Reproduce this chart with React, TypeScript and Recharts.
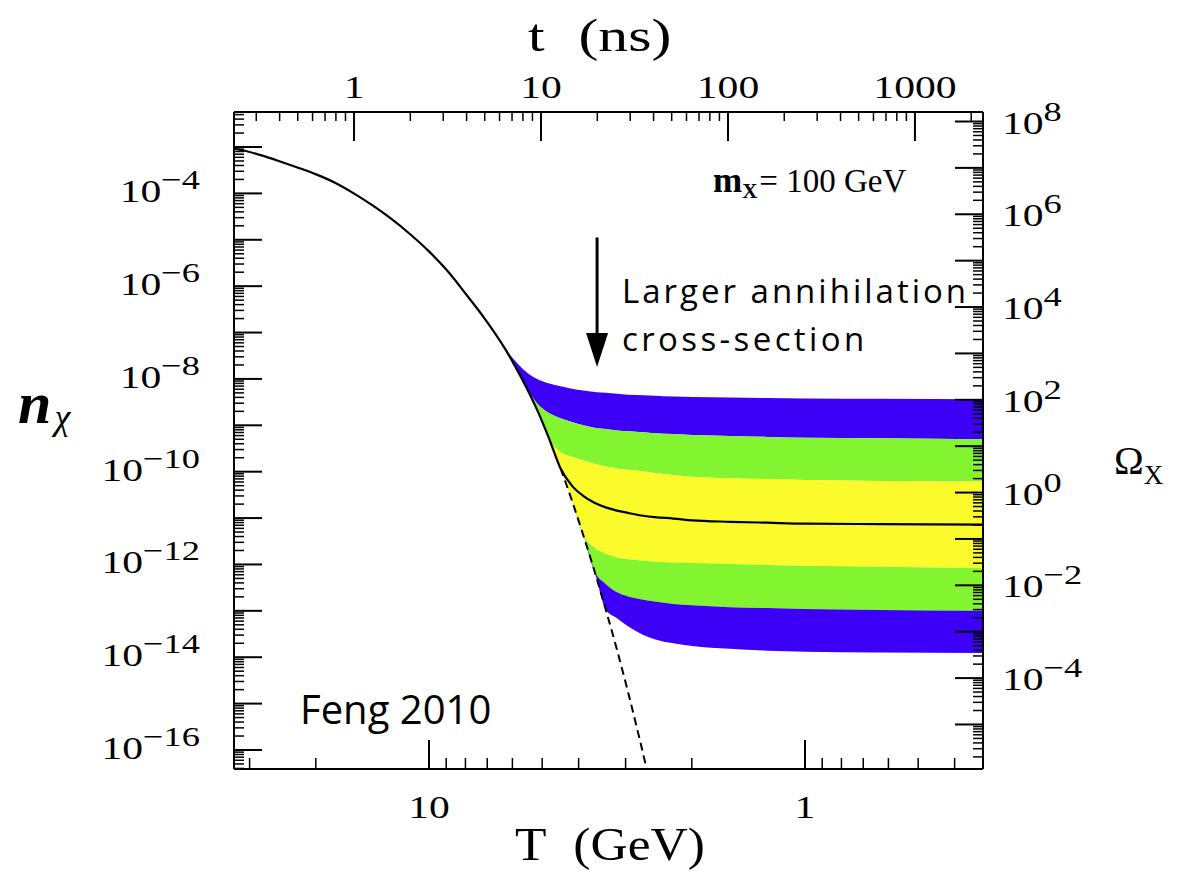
import React from 'react';
import { ComposedChart, Area, Line, XAxis, YAxis, ReferenceLine, ReferenceDot } from 'recharts';

// x = log10 T (GeV), y = log10 n_chi
const eqLogT = [1.52, 1.49, 1.45, 1.4, 1.35, 1.3, 1.25, 1.2, 1.15, 1.1, 1.05, 1.0, 0.95, 0.9, 0.85, 0.8, 0.77, 0.74, 0.71, 0.68, 0.65, 0.62, 0.59, 0.56, 0.53, 0.5, 0.47, 0.44, 0.41];
const eqLogN = [-3.03, -3.08, -3.17, -3.3, -3.44, -3.59, -3.77, -4.0, -4.26, -4.55, -4.88, -5.25, -5.68, -6.19, -6.72, -7.32, -7.74, -8.2, -8.71, -9.3, -9.93, -10.62, -11.36, -12.14, -12.97, -13.84, -14.77, -15.76, -16.79];

// band edges after freeze-out, top to bottom
const bandLogT = [0.8, 0.77, 0.74, 0.71, 0.68, 0.65, 0.62, 0.59, 0.56, 0.53, 0.5, 0.47, 0.43, 0.4, 0.35, 0.3, 0.2, 0.1, 0.0, -0.2, -0.48];
const blueTop = [-7.32, -7.62, -7.86, -8.01, -8.1, -8.16, -8.21, -8.25, -8.28, -8.3, -8.32, -8.34, -8.35, -8.36, -8.38, -8.39, -8.4, -8.41, -8.42, -8.43, -8.44];
const blueGreen = [-7.32, -7.74, -8.2, -8.55, -8.74, -8.85, -8.93, -9.0, -9.05, -9.08, -9.11, -9.13, -9.15, -9.17, -9.19, -9.21, -9.23, -9.25, -9.27, -9.28, -9.3];
const greenYellow = [-7.32, -7.74, -8.2, -8.71, -9.3, -9.58, -9.68, -9.76, -9.83, -9.89, -9.93, -9.96, -9.99, -10.03, -10.07, -10.11, -10.14, -10.16, -10.18, -10.2, -10.21];
const centerLine = [-7.32, -7.74, -8.2, -8.71, -9.3, -9.93, -10.3, -10.52, -10.67, -10.77, -10.84, -10.89, -10.95, -10.98, -11.01, -11.05, -11.08, -11.1, -11.12, -11.13, -11.14];
const yellowGreen = [-7.32, -7.74, -8.2, -8.71, -9.3, -9.93, -10.62, -11.36, -11.64, -11.77, -11.85, -11.89, -11.92, -11.94, -11.96, -11.97, -11.99, -12.01, -12.03, -12.05, -12.08];
const greenBlue = [-7.32, -7.74, -8.2, -8.71, -9.3, -9.93, -10.62, -11.36, -12.14, -12.42, -12.6, -12.69, -12.76, -12.8, -12.85, -12.88, -12.92, -12.94, -12.96, -12.98, -13.0];
const blueBottom = [-7.32, -7.74, -8.2, -8.71, -9.3, -9.93, -10.62, -11.36, -12.14, -12.97, -13.16, -13.34, -13.52, -13.61, -13.7, -13.76, -13.82, -13.86, -13.88, -13.9, -13.91];

// axes (all log10)
const T_DOMAIN = [-0.4734, 1.5186];
const N_DOMAIN = [-16.41, -2.245];
const OMEGA_SHIFT = 10.45; // log Omega = log n + shift
const t_DOMAIN = [-0.642, 3.364];

const nDecades = [-17, -16, -15, -14, -13, -12, -11, -10, -9, -8, -7, -6, -5, -4, -3];
const nLabels = [-16, -14, -12, -10, -8, -6, -4];
const omegaDecades = [-7, -6, -5, -4, -3, -2, -1, 0, 1, 2, 3, 4, 5, 6, 7, 8];
const omegaLabels = [-4, -2, 0, 2, 4, 6, 8];
const TDecades = [-1, 0, 1];
const TLabels = [0, 1];
const tDecades = [-1, 0, 1, 2, 3];
const tLabels = [0, 1, 2, 3];

const BLUE = '#3c00f6';
const GREEN = '#82f530';
const YELLOW = '#fbfb2c';
const SERIF = '"Liberation Serif", "DejaVu Serif", serif';
const SANS = '"Open Sans", "Noto Sans", sans-serif';
const STRETCH = 1.3; // the figure's serif text is wide

const MINOR = [2, 3, 4, 5, 6, 7, 8, 9].map((k) => Math.log10(k));
function logTicks(decades: number[], lo: number, hi: number) {
  const out: number[] = [];
  decades.forEach((d) => {
    out.push(d);
    MINOR.forEach((m) => out.push(d + m));
  });
  return out.filter((v) => v >= lo && v <= hi).sort((a, b) => a - b);
}
const isMajor = (v: number) => Math.abs(v - Math.round(v)) < 1e-6;
const expText = (e: number) => (e < 0 ? '\u2212' + Math.abs(e) : String(e));

const bandData = bandLogT.map((x, i) => ({
  x,
  blueUp: [blueGreen[i], blueTop[i]],
  greenUp: [greenYellow[i], blueGreen[i]],
  yellow: [yellowGreen[i], greenYellow[i]],
  greenDown: [greenBlue[i], yellowGreen[i]],
  blueDown: [blueBottom[i], greenBlue[i]],
}));
const solidData = [
  ...eqLogT.map((x, i) => ({ x, y: eqLogN[i] })).filter((d) => d.x > 0.8),
  ...bandLogT.map((x, i) => ({ x, y: centerLine[i] })),
];
const dashedData = eqLogT.map((x, i) => ({ x, y: eqLogN[i] })).filter((d) => d.x <= 0.65);

const PowerLabel = ({ x, y, e, anchor }: { x: number; y: number; e: number; anchor: 'start' | 'end' }) => (
  <g transform={`translate(${x} ${y}) scale(${STRETCH} 1)`}>
    <text x={0} y={0} textAnchor={anchor} fontFamily={SERIF} fontSize={32} fill="#000">
      <tspan>10</tspan>
      <tspan dy={-13} fontSize={28}>{expText(e)}</tspan>
    </text>
  </g>
);

const PlainLabel = ({ x, y, text }: { x: number; y: number; text: string }) => (
  <g transform={`translate(${x} ${y}) scale(${STRETCH} 1)`}>
    <text x={0} y={0} textAnchor="middle" fontFamily={SERIF} fontSize={32} fill="#000">{text}</text>
  </g>
);

const LeftTick = (p: any) => {
  const v = p.payload.value;
  const major = isMajor(v);
  const show = major && nLabels.includes(Math.round(v));
  return (
    <g>
      <line x1={p.x} y1={p.y} x2={p.x + (major ? 28 : 10)} y2={p.y} stroke="#000" strokeWidth={major ? 2 : 1.5} />
      {show && <PowerLabel x={p.x - 34} y={p.y + 9} e={Math.round(v)} anchor="end" />}
    </g>
  );
};

const RightTick = (p: any) => {
  const v = p.payload.value;
  const major = isMajor(v);
  const show = major && omegaLabels.includes(Math.round(v));
  return (
    <g>
      <line x1={p.x} y1={p.y} x2={p.x - (major ? 28 : 10)} y2={p.y} stroke="#000" strokeWidth={major ? 2 : 1.5} />
      {show && <PowerLabel x={p.x + 19} y={p.y + 12} e={Math.round(v)} anchor="start" />}
    </g>
  );
};

const TopTick = (p: any) => {
  const v = p.payload.value;
  const major = isMajor(v);
  const show = major && tLabels.includes(Math.round(v));
  return (
    <g>
      <line x1={p.x} y1={p.y} x2={p.x} y2={p.y + (major ? 29 : 9)} stroke="#000" strokeWidth={major ? 2 : 1.5} />
      {show && <PlainLabel x={p.x} y={p.y - 14} text={String(Math.pow(10, Math.round(v)))} />}
    </g>
  );
};

const BottomTick = (p: any) => {
  const v = p.payload.value;
  const major = isMajor(v);
  const show = major && TLabels.includes(Math.round(v));
  return (
    <g>
      <line x1={p.x} y1={p.y} x2={p.x} y2={p.y - (major ? 29 : 11)} stroke="#000" strokeWidth={major ? 2 : 1.5} />
      {show && <PlainLabel x={p.x} y={p.y + 49} text={String(Math.pow(10, Math.round(v)))} />}
    </g>
  );
};

const axisLine = { stroke: '#000', strokeWidth: 2 };

export default function App() {
  return (
    <div style={{ position: 'absolute', left: 0, top: 0, width: 1178, height: 872, background: '#fff' }}>
      <ComposedChart
        width={1178}
        height={872}
        data={bandData}
        margin={{ top: 52, right: 45, bottom: 43, left: 84 }}
      >
        <Area xAxisId="T" yAxisId="n" dataKey="blueUp" type="monotone" stroke="none" fill={BLUE} fillOpacity={1} isAnimationActive={false} />
        <Area xAxisId="T" yAxisId="n" dataKey="greenUp" type="monotone" stroke="none" fill={GREEN} fillOpacity={1} isAnimationActive={false} />
        <Area xAxisId="T" yAxisId="n" dataKey="yellow" type="monotone" stroke="none" fill={YELLOW} fillOpacity={1} isAnimationActive={false} />
        <Area xAxisId="T" yAxisId="n" dataKey="greenDown" type="monotone" stroke="none" fill={GREEN} fillOpacity={1} isAnimationActive={false} />
        <Area xAxisId="T" yAxisId="n" dataKey="blueDown" type="monotone" stroke="none" fill={BLUE} fillOpacity={1} isAnimationActive={false} />
        <Line xAxisId="T" yAxisId="n" data={dashedData} dataKey="y" type="monotone" stroke="#000" strokeWidth={2} strokeDasharray="8 5" dot={false} isAnimationActive={false} />
        <Line xAxisId="T" yAxisId="n" data={solidData} dataKey="y" type="monotone" stroke="#000" strokeWidth={2.2} dot={false} isAnimationActive={false} />

        <ReferenceLine xAxisId="T" yAxisId="n" segment={[{ x: 0.553, y: -4.95 }, { x: 0.553, y: -7.05 }]} stroke="#000" strokeWidth={3} />
        <ReferenceDot
          xAxisId="T" yAxisId="n" x={0.553} y={-7.745} r={0}
          shape={(p: any) => <path d={`M${p.cx} ${p.cy} L${p.cx - 11} ${p.cy - 34} L${p.cx + 11} ${p.cy - 34} Z`} fill="#000" />}
        />
        <ReferenceDot
          xAxisId="T" yAxisId="n" x={0.4867} y={-6.36} r={0}
          shape={(p: any) => (
            <text x={p.cx} y={p.cy} fontFamily={SANS} fontSize={33} letterSpacing={3} fill="#000">Larger annihilation</text>
          )}
        />
        <ReferenceDot
          xAxisId="T" yAxisId="n" x={0.4867} y={-7.39} r={0}
          shape={(p: any) => (
            <text x={p.cx} y={p.cy} fontFamily={SANS} fontSize={33} letterSpacing={3.4} fill="#000">cross-section</text>
          )}
        />
        <ReferenceDot
          xAxisId="T" yAxisId="n" x={1.343} y={-15.43} r={0}
          shape={(p: any) => (
            <text x={p.cx} y={p.cy} fontFamily={SANS} fontSize={40} fill="#000">Feng 2010</text>
          )}
        />
        <ReferenceDot
          xAxisId="T" yAxisId="n" x={0.2447} y={-3.96} r={0}
          shape={(p: any) => (
            <text x={p.cx} y={p.cy} fontFamily={SERIF} fontSize={33} fill="#000">
              <tspan fontWeight="bold" fontSize={35}>m</tspan>
              <tspan fontSize={21} fontWeight="bold" dy={6}>X</tspan>
              <tspan dy={-6} dx={2}>= 100 GeV</tspan>
            </text>
          )}
        />

        <XAxis
          xAxisId="T" dataKey="x" type="number" domain={T_DOMAIN} reversed allowDataOverflow
          ticks={logTicks(TDecades, T_DOMAIN[0], T_DOMAIN[1])} interval={0}
          tick={(p: any) => <BottomTick {...p} />} tickLine={false} tickSize={0} tickMargin={0}
          axisLine={axisLine} height={60}
        />
        <XAxis
          xAxisId="t" dataKey="x" orientation="top" type="number" domain={t_DOMAIN} allowDataOverflow
          ticks={logTicks(tDecades, t_DOMAIN[0], t_DOMAIN[1])} interval={0}
          tick={(p: any) => <TopTick {...p} />} tickLine={false} tickSize={0} tickMargin={0}
          axisLine={axisLine} height={60}
        />
        <YAxis
          yAxisId="n" type="number" domain={N_DOMAIN} allowDataOverflow
          ticks={logTicks(nDecades, N_DOMAIN[0], N_DOMAIN[1])} interval={0}
          tick={(p: any) => <LeftTick {...p} />} tickLine={false} tickSize={0} tickMargin={0}
          axisLine={axisLine} width={150}
        />
        <YAxis
          yAxisId="omega" orientation="right" type="number"
          domain={[N_DOMAIN[0] + OMEGA_SHIFT, N_DOMAIN[1] + OMEGA_SHIFT]} allowDataOverflow
          ticks={logTicks(omegaDecades, N_DOMAIN[0] + OMEGA_SHIFT, N_DOMAIN[1] + OMEGA_SHIFT)} interval={0}
          tick={(p: any) => <RightTick {...p} />} tickLine={false} tickSize={0} tickMargin={0}
          axisLine={axisLine} width={150}
        />
      </ComposedChart>

      <svg width={1178} height={872} style={{ position: 'absolute', left: 0, top: 0, pointerEvents: 'none' }}>
        <g transform={`translate(528 51) scale(${STRETCH} 1)`}>
          <text x={0} y={0} fontFamily={SERIF} fontSize={46} fill="#000">
            <tspan>t</tspan>
            <tspan dx={26}>(ns)</tspan>
          </text>
        </g>
        <g transform="translate(515 860) scale(1.12 1)">
          <text x={0} y={0} fontFamily={SERIF} fontSize={46} fill="#000">
            <tspan>T</tspan>
            <tspan dx={24}>(GeV)</tspan>
          </text>
        </g>
        <text x={18} y={423} fontFamily={SERIF} fontSize={60} fontWeight="bold" fontStyle="italic" fill="#000">
          <tspan>n</tspan>
          <tspan fontSize={36} fontWeight="normal" dx={3} dy={6}>χ</tspan>
        </text>
        <text x={1114} y={474} fontFamily={SERIF} fontSize={40} fill="#000">
          <tspan>Ω</tspan>
          <tspan fontSize={27} dy={10}>X</tspan>
        </text>
      </svg>
    </div>
  );
}
